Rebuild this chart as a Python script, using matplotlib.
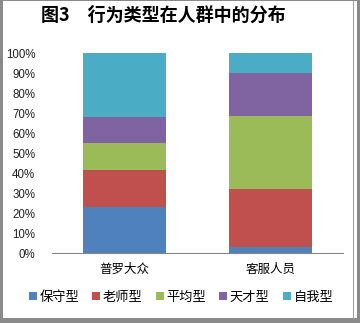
import numpy as np
import matplotlib.pyplot as plt
from matplotlib.patches import Rectangle

# group names and behaviour types
groups = ['普罗大众', '客服人员']
types = ['保守型', '老师型', '平均型', '天才型', '自我型']
colors = ['#4F81BD', '#C0504D', '#9BBB59', '#8064A2', '#4BACC6']

# share of each type within a group (%)
baoshou = [23.3, 3.0]
laoshi = [18.4, 29.2]
pingjun = [13.6, 36.5]
tiancai = [12.7, 21.6]
ziwo = [32.0, 9.7]

cjk = ['Noto Sans CJK SC', 'DejaVu Sans']

fig = plt.figure(figsize=(3.6, 3.23), dpi=100)
fig.patch.set_facecolor('#8a8a8a')
# white panel inside the grey frame
fig.patches.append(Rectangle((3 / 360, 5 / 323), 354 / 360, 317 / 323,
                             transform=fig.transFigure, facecolor='white',
                             edgecolor='none', zorder=-5))
fig.add_artist(plt.Line2D([353 / 360, 353 / 360], [5 / 323, 322 / 323],
                          transform=fig.transFigure, color='#a0a0a0', lw=0.8,
                          zorder=-4))

ax = fig.add_axes([52 / 360, 69.7 / 323, 291 / 360, 200 / 323])
ax.set_facecolor('none')

x = np.arange(len(groups))
bottom = np.zeros(len(groups))
for name, vals, c in zip(types, [baoshou, laoshi, pingjun, tiancai, ziwo], colors):
    ax.bar(x, vals, width=0.57, bottom=bottom, color=c, label=name)
    bottom += np.array(vals)

ax.set_xlim(-0.5, 1.5)
ax.set_ylim(0, 100)
ax.set_yticks(np.arange(0, 101, 10))
ax.set_yticklabels([f'{v}%' for v in range(0, 101, 10)],
                   family='Liberation Sans', fontsize=8.3, color='#222222')
ax.set_xticks(x)
ax.set_xticklabels(groups, family=cjk, fontsize=9)
ax.tick_params(length=0, pad=12)
ax.tick_params(axis='x', pad=7)
for s in ['top', 'right', 'left']:
    ax.spines[s].set_visible(False)
ax.spines['bottom'].set_color('#868686')

fig.text(163 / 360, 308 / 323, '图3　行为类型在人群中的分布', family=cjk,
         fontsize=13, fontweight='bold', ha='center', va='center')

fig.legend(loc='center', bbox_to_anchor=(181 / 360, 26 / 323), ncol=5,
           frameon=False, prop={'family': cjk, 'size': 9.5},
           handlelength=0.6, handleheight=0.6, handletextpad=0.2,
           columnspacing=1.0, borderaxespad=0)

fig.savefig('out.png', dpi=100, facecolor=fig.get_facecolor())
